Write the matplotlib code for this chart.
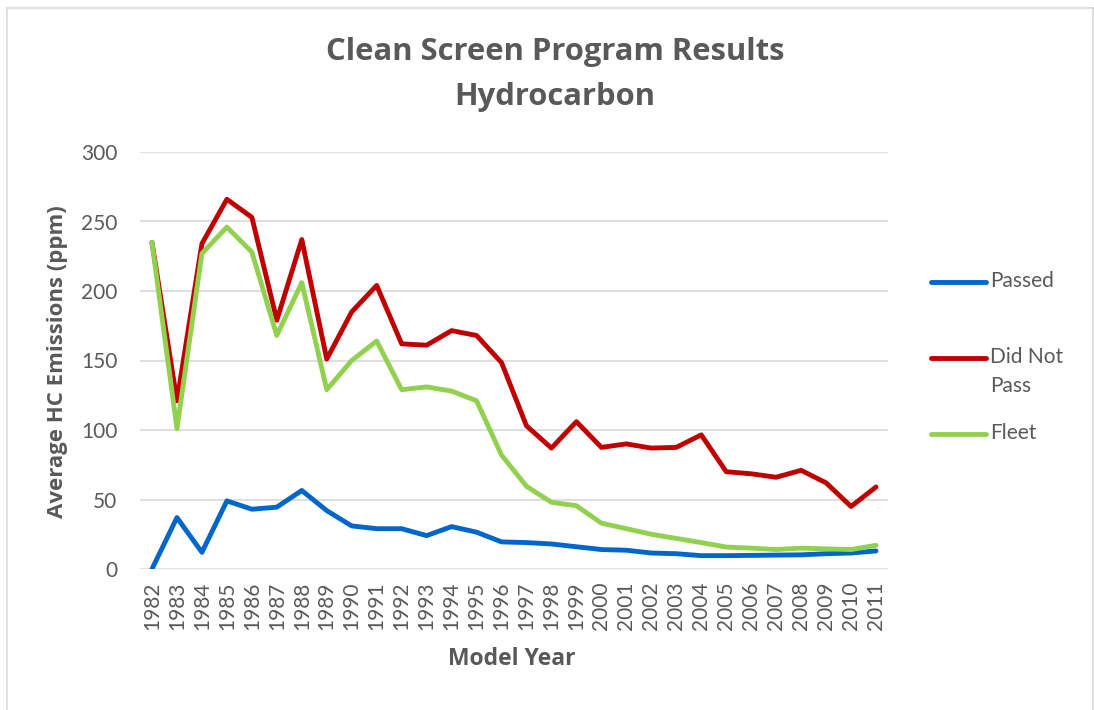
import matplotlib
matplotlib.use("Agg")
import matplotlib.pyplot as plt
from matplotlib.lines import Line2D

years = [str(y) for y in range(1982, 2012)]
passed = [0, 37, 12, 49, 43, 44.5, 56.5, 42, 31, 29, 29, 24, 30.5, 26.5, 19.5,
          19, 18, 16, 14, 13.5, 11.5, 11, 9.6, 9.6, 9.8, 10, 10.2, 11, 11.5, 13]
did_not_pass = [235, 121, 234, 266, 253, 179, 237, 151, 185, 204, 162, 161, 171.5, 168, 148.5,
                103, 87, 106, 87.5, 90, 87, 87.5, 96.5, 70, 68.5, 66, 71, 62, 45, 59]
fleet = [235, 101, 227, 246, 228, 168, 206, 129, 150, 164, 129, 131, 128, 121, 82,
         59.5, 48, 45.5, 33, 29, 25, 22, 19, 15.8, 15, 14, 15, 14.5, 14, 17]

ylabel = "Average HC Emissions (ppm)"
xlabel = "Model Year"
series_names = ["Passed", "Did Not Pass", "Fleet"]
colors = ["#0066CC", "#C00000", "#92D050"]
yticks = [0, 50, 100, 150, 200, 250, 300]

plt.rcParams['font.family'] = ['Lato', 'DejaVu Sans']
BOLD = ['Open Sans', 'DejaVu Sans']
W, H = 1094, 710
fig = plt.figure(figsize=(W / 100, H / 100), dpi=100)

# chart border
fig.add_artist(Line2D([7 / W, 7 / W], [0, 1 - 8 / H], transform=fig.transFigure, color="#D9D9D9", lw=1.2))
fig.add_artist(Line2D([7 / W, 1093 / W], [1 - 8 / H, 1 - 8 / H], transform=fig.transFigure, color="#D9D9D9", lw=1.2))
fig.add_artist(Line2D([1093 / W, 1093 / W], [0, 1 - 8 / H], transform=fig.transFigure, color="#D9D9D9", lw=1.2))

left, right, top, bottom = 139.5, 888.5, 152, 569
ax = fig.add_axes([left / W, 1 - bottom / H, (right - left) / W, (bottom - top) / H])

x = list(range(len(years)))
for vals, c, n in zip([passed, did_not_pass, fleet], colors, series_names):
    ax.plot(x, vals, color=c, lw=3.5, label=n, solid_joinstyle='round', solid_capstyle='round')

ax.set_xlim(-0.5, len(years) - 0.5)
ax.set_ylim(0, 300)
ax.set_yticks(yticks)
ax.set_yticklabels([str(v) for v in yticks], fontsize=15, color="#595959")
ax.set_xticks(x)
ax.set_xticklabels(years, rotation=90, fontsize=15, color="#595959")
ax.tick_params(axis='x', length=0, pad=9)
ax.tick_params(axis='y', length=0, pad=16)
ax.grid(axis='y', color="#D9D9D9", lw=1.2)
ax.set_axisbelow(True)
for s in ax.spines.values():
    s.set_visible(False)

fig.text(555 / W, 1 - 52 / H, "Clean Screen Program Results", ha='center', va='center',
         fontsize=22.3, fontweight='bold', color="#595959", family=BOLD)
fig.text(555 / W, 1 - 97 / H, "Hydrocarbon", ha='center', va='center',
         fontsize=22.3, fontweight='bold', color="#595959", family=BOLD)
fig.text(58 / W, 1 - 362 / H, ylabel, rotation=90, ha='center', va='center',
         fontsize=16, fontweight='bold', color="#595959", family=BOLD)
fig.text(512 / W, 1 - 659 / H, xlabel, ha='center', va='center',
         fontsize=16.5, fontweight='bold', color="#595959", family=BOLD)

# legend
leg_y = [282, 358, 434]
leg_txt = ["Passed", "Did Not\nPass", "Fleet"]
for yy, c, t in zip(leg_y, colors, leg_txt):
    fig.add_artist(Line2D([931 / W, 986 / W], [1 - yy / H, 1 - yy / H], transform=fig.transFigure,
                          color=c, lw=3.5, solid_capstyle='round'))
    fig.text(990 / W, 1 - (yy - 11) / H, t, ha='left', va='top', fontsize=15,
             color="#595959", linespacing=1.55)

fig.savefig("out.png", dpi=100)
